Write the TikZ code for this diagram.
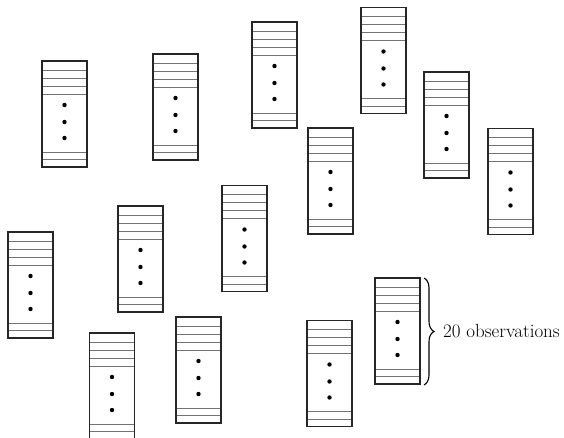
\documentclass[tikz,border=0pt]{standalone}
\usetikzlibrary{decorations.pathreplacing}
\tikzset{
  boxframe/.style={draw=black!85, line width=1.1pt},
  rowline/.style={draw=black!55, line width=0.8pt},
  obsdot/.style={fill=black},
  pics/obsbox/.style={code={
    \draw[rowline] (0,9) -- (45,9) (0,17) -- (45,17) (0,25) -- (45,25) (0,33) -- (45,33)
                   (0,91) -- (45,91) (0,98.5) -- (45,98.5);
    \draw[boxframe] (0,0) rectangle (45,106);
    \fill[obsdot] (22.5,44) circle (2.2pt) (22.5,61) circle (2.2pt) (22.5,77) circle (2.2pt);
  }}
}
\begin{document}
\begin{tikzpicture}[x=1pt,y=-1pt]
\useasboundingbox (0,0) rectangle (564,438);
\pic at (42,61) {obsbox};
\pic at (153,54) {obsbox};
\pic at (252,22) {obsbox};
\pic at (361,7.5) {obsbox};
\pic at (424,72) {obsbox};
\pic at (488,128.5) {obsbox};
\pic at (308,128) {obsbox};
\pic at (222,185.5) {obsbox};
\pic at (118,206) {obsbox};
\pic at (8,232) {obsbox};
\pic at (89.5,333) {obsbox};
\pic at (176,317) {obsbox};
\pic at (307,320.5) {obsbox};
\pic at (375,278) {obsbox};
\coordinate (bt) at (424,278);
\coordinate (bb) at (424,385);
\draw[line width=1.1pt, decorate, decoration={brace, amplitude=10pt}] (bt) -- (bb);
\node[anchor=west, inner sep=0pt, font=\fontsize{19}{22}\selectfont] (lbl) at (443,331) {20 observations};
\end{tikzpicture}
\end{document}
